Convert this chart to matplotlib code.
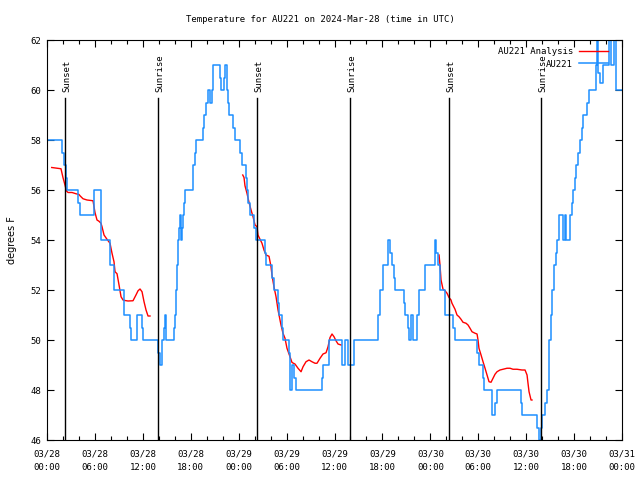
import matplotlib
matplotlib.use('Agg')
import matplotlib.pyplot as plt
from matplotlib.ticker import MultipleLocator

# hours since 03/28 00:00 UTC
obs_hours = [0, 1.94, 2.13, 2.38, 2.50, 3.94, 4.13, 5.89, 6.70, 6.76, 6.82, 7.83, 7.89,
             8.33, 8.39, 9.58, 9.70, 10.39, 10.58, 11.21, 11.33, 11.90, 12.08, 13.96, 14.09,
             14.34, 14.46, 14.65, 14.74, 14.84, 14.96, 15.90, 16.03, 16.15, 16.28, 16.40,
             16.59, 16.65, 16.78, 16.91, 16.99, 17.15, 17.34, 18.22, 18.34, 18.47, 18.66,
             19.53, 19.72, 19.97, 20.10, 20.47, 20.60, 20.79, 21.60, 21.79, 22.16, 22.35,
             22.48, 22.67, 22.85, 23.29, 23.60, 24.17, 24.36, 24.92, 25.04, 25.23, 25.36,
             25.92, 26.11, 27.30, 27.42, 28.17, 28.42, 28.93, 29.11, 29.43, 29.55, 30.24,
             30.37, 30.49, 30.62, 30.99, 31.12, 34.47, 34.60, 35.25, 35.37, 36.94, 37.32,
             37.73, 38.48, 41.41, 41.64, 42.07, 42.70, 42.95, 43.14, 43.45, 43.58, 44.64,
             44.83, 45.21, 45.33, 45.52, 45.89, 46.27, 46.52, 47.27, 48.62, 48.77, 48.90,
             49.15, 49.27, 49.84, 50.84, 51.03, 53.84, 54.09, 54.56, 54.72, 55.69, 56.14,
             56.29, 59.36, 59.54, 61.36, 61.55, 61.80, 61.92, 62.36, 62.55, 62.80, 62.92,
             63.05, 63.24, 63.43, 63.68, 63.80, 64.05, 64.55, 64.80, 64.97, 65.55, 65.74,
             65.87, 66.12, 66.28, 66.49, 66.68, 66.93, 67.12, 67.56, 67.81, 68.75, 68.87,
             69.00, 69.25, 69.56, 70.31, 70.56, 71.06, 71.31, 72.0]
obs_temp = [58, 57.5, 57, 56.5, 56, 55.5, 55, 56, 55.5, 54.5, 54, 53.5, 53,
            52.5, 52, 51.5, 51, 50.5, 50, 50.5, 51, 50.5, 50, 49.5, 49,
            49.5, 50, 50.5, 51, 50.5, 50, 50.5, 51, 52, 53, 54,
            54.5, 55, 54, 54.5, 55, 55.5, 56, 56.5, 57, 57.5, 58,
            58.5, 59, 59.5, 60, 59.5, 60, 61, 60.5, 60, 60.5, 61,
            60, 59.5, 59, 58.5, 58, 57.5, 57, 56.5, 56, 55.5, 55,
            54.5, 54, 53.5, 53, 52.5, 52, 51.5, 51, 50.5, 50, 49.5,
            49, 48, 49, 48.5, 48, 48.5, 49, 49.5, 50, 49, 50,
            49, 50, 51, 52, 53, 54, 53.5, 53, 52.5, 52, 51.5,
            51, 50.5, 50, 51, 50, 51, 52, 53, 54, 53.5, 53,
            52.5, 52, 51, 50.5, 50, 49.5, 49, 48.5, 48, 47, 47.5,
            48, 47.5, 47, 46.5, 46, 46.5, 47, 47.5, 48, 49, 50,
            51, 52, 53, 53.5, 54, 55, 54, 55, 54, 55, 55.5,
            56, 56.5, 57, 57.5, 58, 58.5, 59, 59.5, 60, 61, 62,
            60.7, 60.3, 61, 62, 61, 62, 60, 60]

ana1_hours = [0.59, 1.75, 2.00, 2.25, 2.44, 2.63, 3.13, 3.63, 4.01, 4.13, 4.51, 5.01, 5.76,
              6.01, 6.26, 6.51, 6.76, 6.89, 7.14, 7.51, 7.89, 8.14, 8.39, 8.52, 8.77, 9.02,
              9.27, 9.52, 9.77, 10.14, 10.77, 11.14, 11.40, 11.65, 11.90, 12.15, 12.40,
              12.65, 12.90]
ana1_temp = [56.9, 56.85, 56.5, 56.2, 55.96, 55.9, 55.9, 55.85, 55.82, 55.77, 55.65, 55.6,
             55.57, 55.1, 54.8, 54.75, 54.67, 54.53, 54.2, 54.03, 53.87, 53.47, 53.13,
             52.73, 52.65, 52.2, 51.73, 51.6, 51.58, 51.56, 51.57, 51.8, 51.97, 52.04,
             51.93, 51.53, 51.2, 50.96, 50.96]

ana2_hours = [24.51, 24.67, 24.79, 25.04, 25.30, 25.55, 25.80, 26.05, 26.30, 26.42, 26.67,
              26.92, 27.17, 27.42, 27.80, 28.05, 28.17, 28.42, 28.68, 28.93, 29.30, 29.55,
              29.80, 30.05, 30.43, 30.68, 31.05, 31.43, 31.81, 32.06, 32.43, 32.81, 33.18,
              33.56, 33.81, 34.19, 34.56, 34.94, 35.19, 35.44, 35.69, 35.94, 36.19, 36.44,
              36.82]
ana2_temp = [56.6, 56.5, 56.17, 55.87, 55.5, 55.2, 54.93, 54.6, 54.53, 54.2, 54.03, 53.87,
             53.6, 53.4, 53.35, 52.93, 52.6, 52.13, 51.73, 51.2, 50.6, 50.27, 50.07, 49.67,
             49.33, 49.1, 49.04, 48.87, 48.73, 48.93, 49.13, 49.2, 49.13, 49.07, 49.07,
             49.27, 49.44, 49.49, 49.73, 50.1, 50.24, 50.13, 49.97, 49.84, 49.8]

ana3_hours = [49.09, 49.21, 49.34, 49.59, 49.84, 50.09, 50.34, 50.59, 50.71, 51.09, 51.34,
              51.59, 51.84, 52.09, 52.47, 52.72, 52.97, 53.22, 53.60, 53.85, 53.97, 54.09,
              54.35, 54.60, 54.85, 55.10, 55.35, 55.60, 55.85, 56.10, 56.35, 56.72, 57.10,
              57.60, 57.98, 58.35, 58.85, 59.48, 59.86, 60.11, 60.23, 60.36, 60.61, 60.73]
ana3_temp = [53.4, 53.0, 52.4, 52.03, 51.97, 51.87, 51.7, 51.6, 51.47, 51.23, 51.0, 50.93,
             50.83, 50.71, 50.67, 50.6, 50.47, 50.33, 50.27, 50.24, 50.0, 49.67, 49.4,
             49.13, 48.87, 48.6, 48.33, 48.31, 48.47, 48.63, 48.73, 48.8, 48.83, 48.87,
             48.87, 48.83, 48.83, 48.8, 48.8, 48.6, 48.27, 47.93, 47.6, 47.6]

sun_hours = [2.25, 13.90, 26.30, 37.94, 50.34, 61.86]
sun_labels = ['Sunset', 'Sunrise', 'Sunset', 'Sunrise', 'Sunset', 'Sunrise']

tick_labels = ['03/28\n00:00', '03/28\n06:00', '03/28\n12:00', '03/28\n18:00',
               '03/29\n00:00', '03/29\n06:00', '03/29\n12:00', '03/29\n18:00',
               '03/30\n00:00', '03/30\n06:00', '03/30\n12:00', '03/30\n18:00',
               '03/31\n00:00']

mono = 'DejaVu Sans Mono'
fs = 6.5

fig = plt.figure(figsize=(6.4, 4.8), dpi=100)
ax = fig.add_axes([47 / 640, 40 / 480, 575 / 640, 400 / 480])

red = '#ff0000'
blue = '#1e8fff'
ax.plot(ana1_hours, ana1_temp, color=red, lw=1, label='AU221 Analysis')
ax.plot(ana2_hours, ana2_temp, color=red, lw=1)
ax.plot(ana3_hours, ana3_temp, color=red, lw=1)
ax.plot(obs_hours, obs_temp, color=blue, lw=1.1, drawstyle='steps-post', label='AU221')

for h, lab in zip(sun_hours, sun_labels):
    ax.plot([h, h], [46, 59.68], color='black', lw=1)
    ax.text(h + 0.2, 59.92, lab, rotation=90, ha='center', va='bottom',
            fontsize=fs, family=mono)

ax.set_xlim(0, 72)
ax.set_ylim(46, 62)
ax.set_xticks(range(0, 73, 6))
ax.set_xticklabels(tick_labels, family=mono, fontsize=fs, linespacing=1.6)
ax.xaxis.set_minor_locator(MultipleLocator(2))
ax.set_yticks(range(46, 63, 2))
ax.set_yticklabels([str(v) for v in range(46, 63, 2)], family=mono, fontsize=fs)
ax.tick_params(which='both', direction='in', top=True, right=True, width=0.8)
ax.tick_params(which='major', length=5, pad=4)
ax.tick_params(axis='x', which='major', pad=7)
ax.tick_params(which='minor', length=3)
ax.set_ylabel('degrees F', fontsize=7, labelpad=10)
fig.text(0.5, 1 - 20 / 480, 'Temperature for AU221 on 2024-Mar-28 (time in UTC)',
         family=mono, fontsize=fs, ha='center', va='center')

leg = ax.legend(loc='upper right', frameon=False, markerfirst=False,
                prop={'family': mono, 'size': fs}, handlelength=3.2,
                handletextpad=0.7, labelspacing=0.35, borderaxespad=0.2,
                bbox_to_anchor=(0.985, 0.995))
for t in leg.get_texts():
    t.set_ha('right')

fig.savefig('out.png', dpi=100)
